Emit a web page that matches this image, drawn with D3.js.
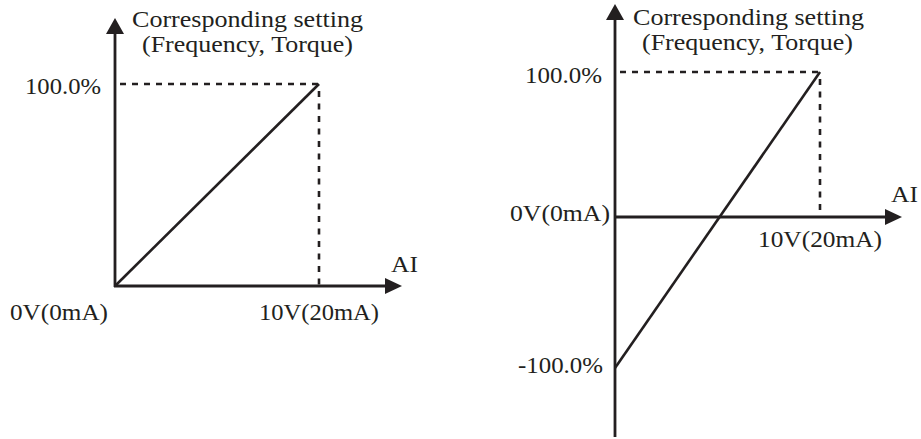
<!DOCTYPE html>
<html>
<head>
<meta charset="utf-8">
<script src="https://cdn.jsdelivr.net/npm/d3@7/dist/d3.min.js"></script>
<style>
  html, body { margin: 0; padding: 0; background: #fff; }
  svg { display: block; }
  text { font-family: "Liberation Serif", "Times New Roman", serif; fill: #231f20; }
</style>
</head>
<body>
<svg id="chart" width="921" height="439"></svg>
<script>
// ---- data ----
const aiValues = [0, 10];                 // AI input (V)
const leftSetting = [0, 100];             // corresponding setting (%), left chart
const rightSetting = [-100, 100];         // corresponding setting (%), right chart
const yTitleLines = ["Corresponding setting", "(Frequency, Torque)"];
const xTitle = "AI";
const xTickLabels = ["0V(0mA)", "10V(20mA)"];
const leftYTickLabels = ["100.0%"];
const rightYTickLabels = ["100.0%", "-100.0%"];

const INK = "#231f20";
const svg = d3.select("#chart");

// ---- scales ----
const lx = d3.scaleLinear().domain([0, 10]).range([115, 319]);
const ly = d3.scaleLinear().domain([0, 100]).range([286, 84]);
const rx = d3.scaleLinear().domain([0, 10]).range([615, 820]);
const ry = d3.scaleLinear().domain([-100, 0, 100]).range([368, 217, 72]);

function arrowUp(g, x, tipY) {
  g.append("path").attr("d", `M${x},${tipY} L${x - 9},${tipY + 16} L${x + 9},${tipY + 16} Z`).attr("fill", INK);
}
function arrowRight(g, tipX, y) {
  g.append("path").attr("d", `M${tipX},${y} L${tipX - 17},${y - 8} L${tipX - 17},${y + 8} Z`).attr("fill", INK);
}
function label(g, txt, x, y, anchor, width) {
  const t = g.append("text").attr("x", x).attr("y", y).attr("text-anchor", anchor)
    .attr("font-size", 23).text(txt);
  if (width) t.attr("textLength", width).attr("lengthAdjust", "spacingAndGlyphs");
  return t;
}

const line = (xs, ys) => d3.line().x(d => xs(d[0])).y(d => ys(d[1]));

// ---- left chart ----
const L = svg.append("g");
L.append("line").attr("x1", lx(0) + 5).attr("x2", lx(10)).attr("y1", ly(100)).attr("y2", ly(100))
  .attr("stroke", INK).attr("stroke-width", 2.6).attr("stroke-dasharray", "6,6");
L.append("line").attr("x1", lx(10)).attr("x2", lx(10)).attr("y1", ly(100) + 7).attr("y2", ly(0))
  .attr("stroke", INK).attr("stroke-width", 2.6).attr("stroke-dasharray", "6,6.5");
L.append("line").attr("x1", lx(0)).attr("x2", lx(0)).attr("y1", ly(0) + 1).attr("y2", 30)
  .attr("stroke", INK).attr("stroke-width", 2.8);
arrowUp(L, lx(0), 18);
L.append("line").attr("x1", lx(0) - 1).attr("x2", 390).attr("y1", ly(0)).attr("y2", ly(0))
  .attr("stroke", INK).attr("stroke-width", 2.8);
arrowRight(L, 402, ly(0));
L.append("path").datum(aiValues.map((v, i) => [v, leftSetting[i]]))
  .attr("d", line(lx, ly)).attr("fill", "none").attr("stroke", INK).attr("stroke-width", 2.6);
label(L, yTitleLines[0], 132, 27, "start", 231);
label(L, yTitleLines[1], 142, 52, "start", 211);
label(L, leftYTickLabels[0], lx(0) - 14, ly(100) + 10, "end", 76);
label(L, xTickLabels[0], 108, ly(0) + 34, "end", 98);
label(L, xTickLabels[1], lx(10), ly(0) + 34, "middle", 120);
label(L, xTitle, 391, 272, "start", 27);

// ---- right chart ----
const R = svg.append("g");
R.append("line").attr("x1", rx(0) + 5).attr("x2", rx(10)).attr("y1", ry(100)).attr("y2", ry(100))
  .attr("stroke", INK).attr("stroke-width", 2.6).attr("stroke-dasharray", "6,6");
R.append("line").attr("x1", rx(10)).attr("x2", rx(10)).attr("y1", ry(100) + 7).attr("y2", ry(0))
  .attr("stroke", INK).attr("stroke-width", 2.6).attr("stroke-dasharray", "6,6.5");
R.append("line").attr("x1", rx(0)).attr("x2", rx(0)).attr("y1", 437).attr("y2", 16)
  .attr("stroke", INK).attr("stroke-width", 2.8);
arrowUp(R, rx(0), 4);
R.append("line").attr("x1", rx(0)).attr("x2", 890).attr("y1", ry(0)).attr("y2", ry(0))
  .attr("stroke", INK).attr("stroke-width", 2.8);
arrowRight(R, 902, ry(0));
R.append("path").datum(aiValues.map((v, i) => [v, rightSetting[i]]))
  .attr("d", line(rx, ry)).attr("fill", "none").attr("stroke", INK).attr("stroke-width", 2.6);
label(R, yTitleLines[0], 633, 25, "start", 231);
label(R, yTitleLines[1], 642, 50, "start", 211);
label(R, rightYTickLabels[0], rx(0) - 13, ry(100) + 11, "end", 77);
label(R, rightYTickLabels[1], rx(0) - 12, ry(-100) + 5, "end", 85);
label(R, xTickLabels[0], rx(0) - 5, ry(0) + 4, "end", 100);
label(R, xTickLabels[1], rx(10), ry(0) + 30, "middle", 124);
label(R, xTitle, 891, 202, "start", 27);
</script>
</body>
</html>
